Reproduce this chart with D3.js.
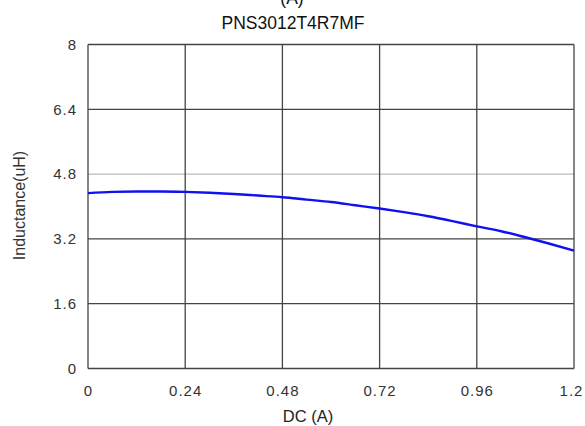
<!DOCTYPE html>
<html><head><meta charset="utf-8">
<script src="https://cdn.jsdelivr.net/npm/d3@7"></script>
<style>body{margin:0;background:#fff}text{font-family:"Liberation Sans",Arial,sans-serif}</style>
</head><body><svg id="c" width="585" height="426"></svg>
<script>
const xTicks = [0, 0.24, 0.48, 0.72, 0.96, 1.2];
const xTickLabels = ["0", "0.24", "0.48", "0.72", "0.96", "1.2"];
const yTicks = [0, 1.6, 3.2, 4.8, 6.4, 8];
const yTickLabels = ["0", "1.6", "3.2", "4.8", "6.4", "8"];
const current = [0, 0.06, 0.12, 0.18, 0.24, 0.30, 0.36, 0.42, 0.48, 0.54, 0.60, 0.66, 0.72, 0.78, 0.84, 0.90, 0.96, 1.02, 1.08, 1.14, 1.20];
const inductance = [4.33, 4.36, 4.37, 4.37, 4.36, 4.34, 4.31, 4.27, 4.23, 4.17, 4.11, 4.03, 3.95, 3.86, 3.76, 3.64, 3.51, 3.39, 3.24, 3.08, 2.91];

const svg = d3.select("#c");
const L = 88, R = 574, T = 44.5, B = 368.5;
const x = d3.scaleLinear().domain([0, 1.2]).range([L, R]);
const y = d3.scaleLinear().domain([0, 8]).range([B, T]);

svg.append("text").attr("x", 292).attr("y", 4).attr("text-anchor", "middle")
  .attr("font-size", 17.5).attr("fill", "#111").text("(A)");
svg.append("text").attr("x", 293).attr("y", 29).attr("text-anchor", "middle")
  .attr("font-size", 17.5).attr("fill", "#111").text("PNS3012T4R7MF");

// grid
const g = svg.append("g");
yTicks.forEach(v => {
  const light = v === 4.8;
  g.append("line").attr("x1", L).attr("x2", R).attr("y1", y(v)).attr("y2", y(v))
    .attr("stroke", light ? "#aaa" : "#444").attr("stroke-width", light ? 1 : 1.3);
});
xTicks.forEach(v => {
  g.append("line").attr("x1", x(v)).attr("x2", x(v)).attr("y1", T).attr("y2", B)
    .attr("stroke", "#444").attr("stroke-width", 1.3);
});

const xAxis = svg.append("g").attr("transform", `translate(0,${B})`)
  .call(d3.axisBottom(x).tickValues(xTicks).tickSize(0).tickPadding(17)
    .tickFormat((d, i) => xTickLabels[i]));
xAxis.select(".domain").remove();
xAxis.selectAll("text").attr("font-size", 15).attr("fill", "#333").attr("letter-spacing", 1)
  .attr("font-family", "Liberation Sans, Arial, sans-serif");
xAxis.selectAll(".tick").filter(d => d === 1.2).select("text").attr("dx", -3);

const yAxis = svg.append("g").attr("transform", `translate(${L},0)`)
  .call(d3.axisLeft(y).tickValues(yTicks).tickSize(0).tickPadding(11)
    .tickFormat((d, i) => yTickLabels[i]));
yAxis.select(".domain").remove();
yAxis.selectAll("text").attr("font-size", 15).attr("fill", "#333").attr("letter-spacing", 1)
  .attr("font-family", "Liberation Sans, Arial, sans-serif");

svg.append("text").attr("x", 308).attr("y", 422).attr("text-anchor", "middle")
  .attr("font-size", 16.5).attr("fill", "#222").text("DC (A)");
svg.append("text").attr("transform", "translate(25,205.5) rotate(-90)").attr("text-anchor", "middle")
  .attr("font-size", 16).attr("fill", "#333").text("Inductance(uH)");

const line = d3.line().x((d, i) => x(current[i])).y(d => y(d)).curve(d3.curveMonotoneX);
svg.append("path").datum(inductance).attr("d", line).attr("fill", "none")
  .attr("stroke", "#1010f0").attr("stroke-width", 2.4);
</script></body></html>
